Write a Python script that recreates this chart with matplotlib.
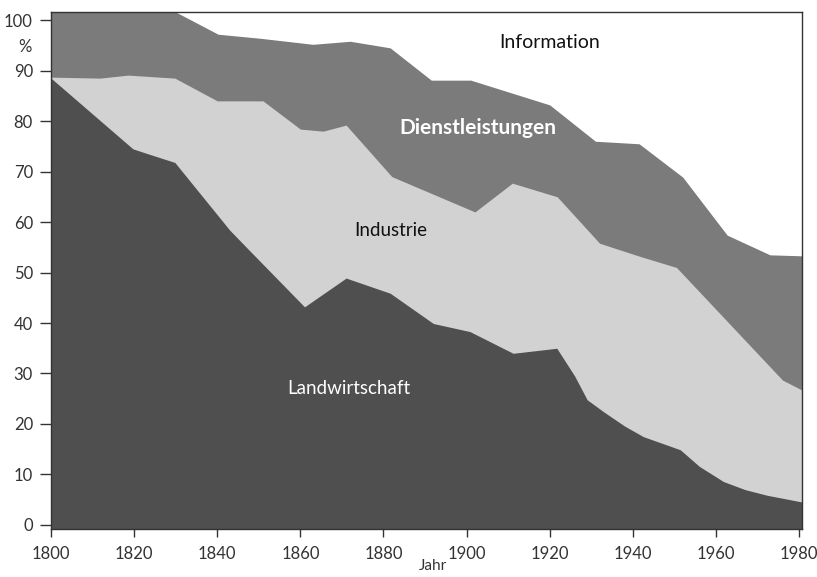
import matplotlib
matplotlib.use("Agg")
import matplotlib.pyplot as plt
import matplotlib.transforms as mtransforms

plt.rcParams['font.family'] = ['Lato', 'DejaVu Sans']

# Upper boundary of "Dienstleistungen" layer (cumulative %, includes Industrie + Landwirtschaft)
dienst_years = [1800, 1830, 1840.2, 1850.3, 1863, 1872, 1881.6, 1891.5, 1901, 1920, 1931, 1941.5,
                1952, 1962.7, 1973, 1981]
dienst_top = [101.6, 101.6, 97.2, 96.4, 95.2, 95.8, 94.5, 88.1, 88.1, 83.2, 76.0, 75.5,
              68.9, 57.4, 53.5, 53.3]

# Upper boundary of "Industrie" layer (cumulative %)
ind_years = [1800, 1811.8, 1818.5, 1829.8, 1840, 1851, 1860, 1865.5, 1871, 1882, 1902,
             1911, 1921.8, 1932, 1941.7, 1950.5, 1976, 1981]
ind_top = [88.7, 88.5, 89.1, 88.5, 84.0, 84.0, 78.4, 78.0, 79.2, 69.0, 62.0,
           67.7, 65.0, 55.8, 53.2, 51.0, 28.7, 26.6]

# Upper boundary of "Landwirtschaft" layer (%)
land_years = [1800, 1819.7, 1823, 1829.8, 1836, 1843, 1847, 1861, 1871, 1881.6, 1892, 1900.8,
              1911.2, 1921.7, 1926, 1929, 1933, 1938, 1942.5, 1951.4, 1956, 1961.8, 1967,
              1972.2, 1981]
land_top = [88.5, 74.5, 73.6, 71.8, 65.5, 58.4, 55.0, 43.2, 48.9, 45.9, 39.9, 38.3,
            34.0, 35.0, 29.5, 24.8, 22.4, 19.6, 17.5, 14.9, 11.6, 8.6, 7.0,
            5.9, 4.5]

labels = ["Information", "Dienstleistungen", "Industrie", "Landwirtschaft"]
yticks = [0, 10, 20, 30, 40, 50, 60, 70, 80, 90, 100]
xticks = [1800, 1820, 1840, 1860, 1880, 1900, 1920, 1940, 1960, 1980]

c_dienst = "#7b7b7b"
c_ind = "#d2d2d2"
c_land = "#4f4f4f"

fig = plt.figure(figsize=(8.17, 5.77), dpi=100)
ax = fig.add_axes([51 / 817, 1 - 529 / 577, (802 - 51) / 817, (529 - 12) / 577])

ax.fill_between(dienst_years, dienst_top, -2, color=c_dienst, lw=0)
ax.fill_between(ind_years, ind_top, -2, color=c_ind, lw=0)
ax.fill_between(land_years, land_top, -2, color=c_land, lw=0)

ax.set_xlim(1800, 1980.7)
ax.set_ylim(-0.8, 101.6)

ax.set_xticks(xticks)
ax.set_xticklabels([str(x) for x in xticks])
ax.set_yticks(yticks)
ax.set_yticklabels([str(y) for y in yticks])
ax.tick_params(axis='both', direction='out', labelsize=12, colors='#333333', width=1.0)
ax.tick_params(axis='y', length=8, pad=5)
ax.tick_params(axis='x', length=6, pad=6)

for s in ax.spines.values():
    s.set_color('#333333')
    s.set_linewidth(1.0)

trans = mtransforms.blended_transform_factory(ax.transAxes, ax.transData)
ax.text(-0.035, 94.7, "%", transform=trans, ha='center', va='center', fontsize=12, color='#333333')

ax.text(1920, 95.6, labels[0], ha='center', va='center', fontsize=14, color='#111111')
ax.text(1902.7, 78.6, labels[1], ha='center', va='center', fontsize=15, color='white', fontweight='bold')
ax.text(1881.8, 58.4, labels[2], ha='center', va='center', fontsize=13.5, color='#111111')
ax.text(1871.7, 27.1, labels[3], ha='center', va='center', fontsize=13.5, color='white')

fig.text(433 / 817, 1 - 566 / 577, "Jahr", ha='center', va='center', fontsize=11, color='#333333')

fig.savefig("out.png", dpi=100)
